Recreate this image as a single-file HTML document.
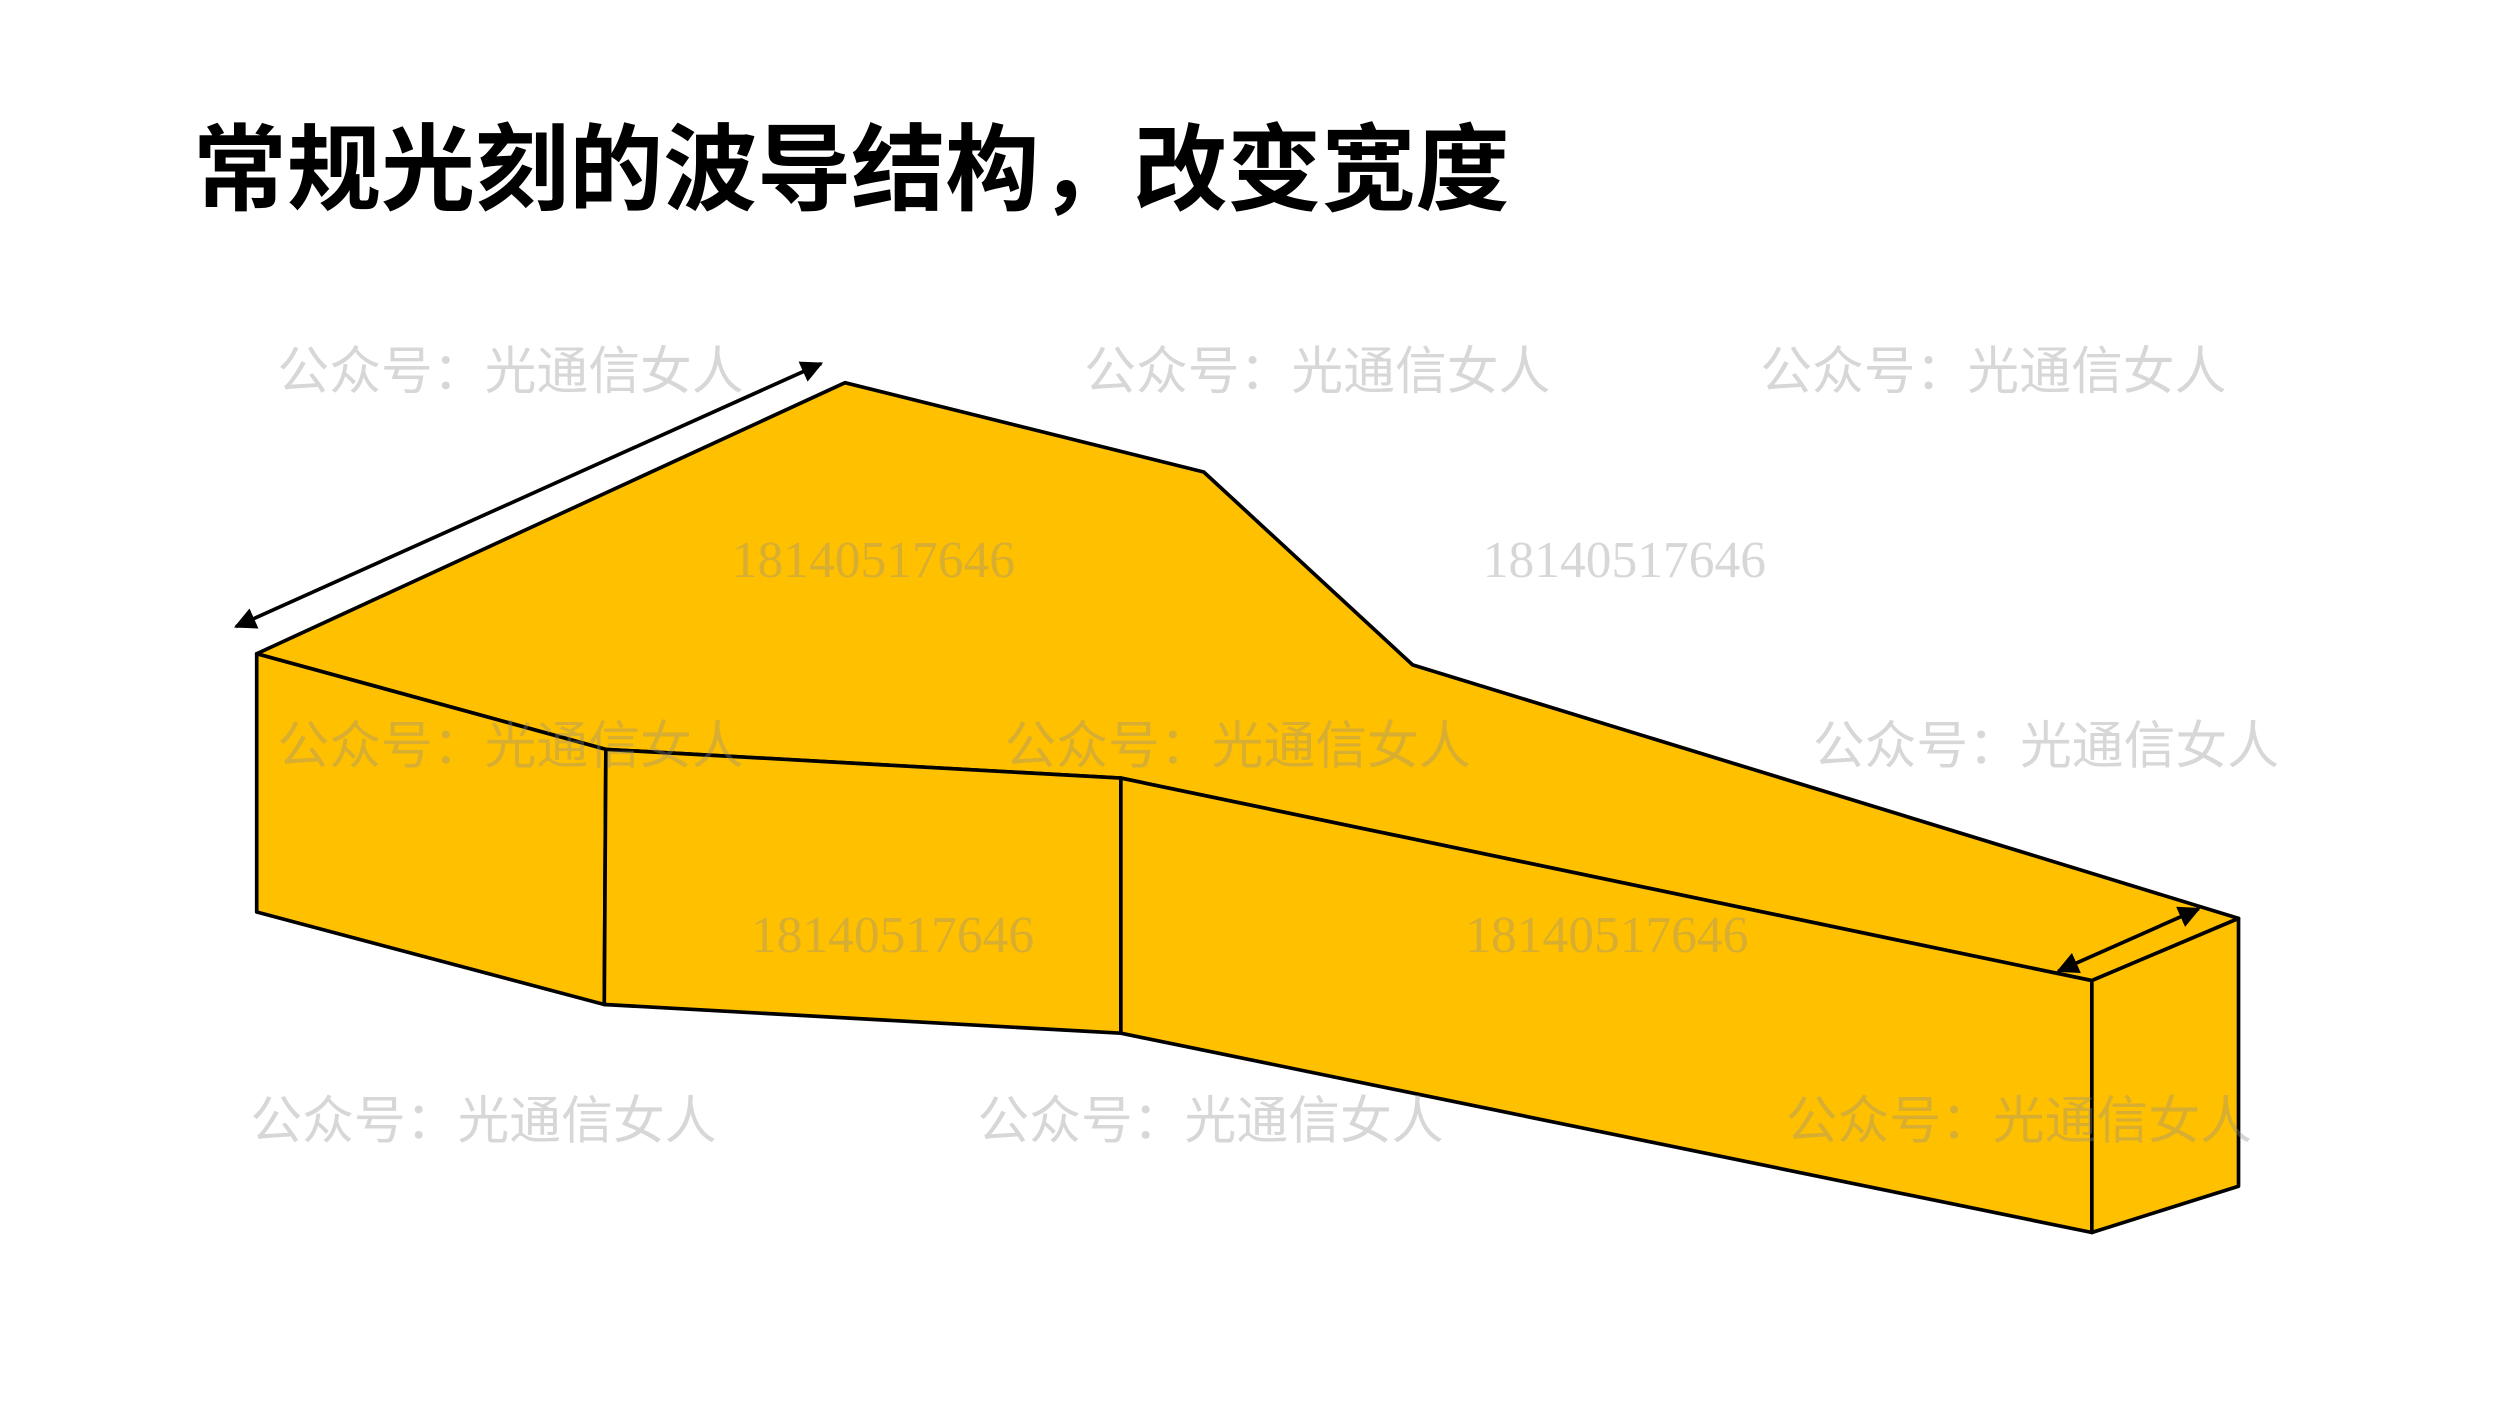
<!DOCTYPE html>
<html><head><meta charset="utf-8"><style>
html,body{margin:0;padding:0;background:#fff;}
svg{display:block;}
</style></head><body>
<svg width="2500" height="1406" viewBox="0 0 1568 881.8" xmlns="http://www.w3.org/2000/svg">
<defs>
<marker id="ah" viewBox="0 0 10 10" refX="9" refY="5" markerWidth="6" markerHeight="6" orient="auto-start-reverse">
<path d="M0,0 L10,5 L0,10 z" fill="#000"/>
</marker>
</defs>
<rect width="1568" height="882" fill="#fff"/>
<text x="121" y="127" font-family="'Liberation Sans','Noto Sans CJK SC',sans-serif" font-weight="bold" font-size="59" fill="#000">常规光刻的波导结构，改变宽度</text>
<g stroke="#000" stroke-width="2.3" fill="#FFC000" stroke-linejoin="round">
<polygon points="161,410 530,240 755,296 886,417 1404,576 1312,615 703,488 380,470"/>
<polygon points="161,410 380,470 379,630 161,572"/>
<polygon points="380,470 703,488 703,648 379,630"/>
<polygon points="703,488 1312,615 1312,773 703,648"/>
<polygon points="1312,615 1404,576 1404,744 1312,773"/>
</g>
<g stroke="#000" stroke-width="2.3">
<line x1="148" y1="393" x2="515" y2="228" marker-start="url(#ah)" marker-end="url(#ah)"/>
<line x1="1291" y1="609" x2="1379" y2="570" marker-start="url(#ah)" marker-end="url(#ah)"/>
</g>
<g font-family="'Liberation Sans','Noto Sans CJK SC',sans-serif" font-size="32.5" fill="rgba(140,140,140,0.35)">
<text x="174" y="244">公众号：光通信女人</text>
<text x="680" y="244">公众号：光通信女人</text>
<text x="1104" y="244">公众号：光通信女人</text>
<text x="174" y="479">公众号：光通信女人</text>
<text x="630" y="479">公众号：光通信女人</text>
<text x="1137" y="479">公众号：光通信女人</text>
<text x="157" y="714">公众号：光通信女人</text>
<text x="613" y="714">公众号：光通信女人</text>
<text x="1120" y="714">公众号：光通信女人</text>
</g>
<g font-family="'Liberation Serif',serif" font-size="32.3" fill="rgba(140,140,140,0.35)">
<text x="459" y="362">18140517646</text>
<text x="930" y="362">18140517646</text>
<text x="471" y="597">18140517646</text>
<text x="919" y="597">18140517646</text>
</g>
</svg>
</body></html>
